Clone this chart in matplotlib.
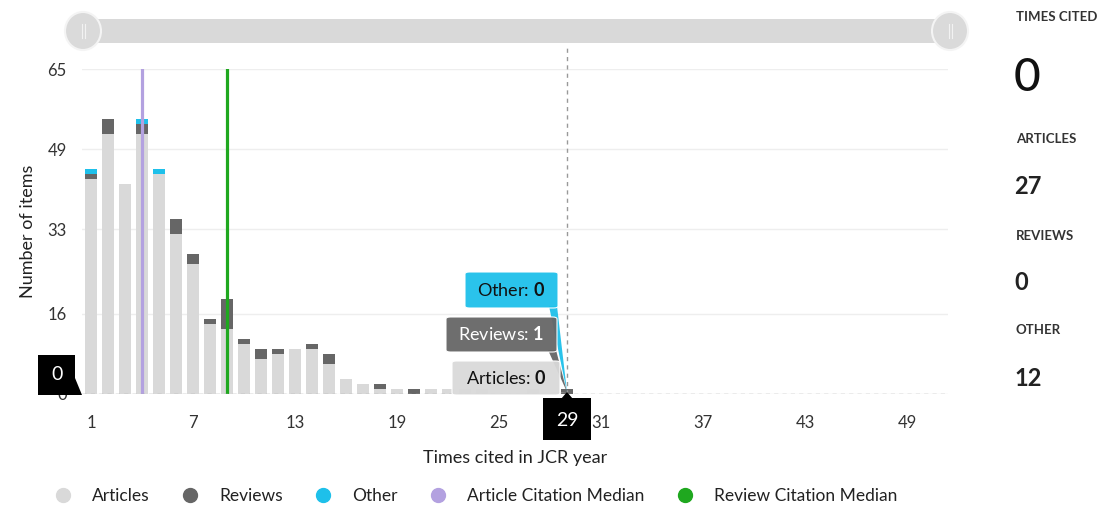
import numpy as np
import matplotlib.pyplot as plt
from matplotlib.lines import Line2D
from matplotlib.patches import FancyBboxPatch, Ellipse, Polygon

plt.rcParams['font.family'] = ['Lato', 'DejaVu Sans']
plt.rcParams['mathtext.fontset'] = 'custom'
plt.rcParams['mathtext.rm'] = 'Lato'
plt.rcParams['mathtext.bf'] = 'Lato:bold'

# --- data ---
times_cited = np.arange(1, 30)
articles = [43, 52, 42, 52, 44, 32, 26, 14, 13, 10, 7, 8, 9, 9, 6, 3, 2, 1, 1, 0,
            1, 1, 1, 1, 0, 0, 1, 0, 0]
reviews = [1, 3, 0, 2, 0, 3, 2, 1, 6, 1, 2, 1, 0, 1, 2, 0, 0, 1, 0, 1,
           0, 0, 0, 0, 0, 0, 0, 0, 1]
other = [1, 0, 0, 1, 1] + [0] * 24
article_median = 4
review_median = 9
x_ticks = [1, 7, 13, 19, 25, 31, 37, 43, 49]
y_ticks = [0, 16, 33, 49, 65]

hover_x = 29
hover_vals = {"Articles": 0, "Reviews": 1, "Other": 0}
panel = [("TIMES CITED", "0"), ("ARTICLES", "27"), ("REVIEWS", "0"), ("OTHER", "12")]

c_art = '#d9d9d9'
c_rev = '#666666'
c_oth = '#1ec0ea'
c_amed = '#b3a1e0'
c_rmed = '#1fa81f'

W, H = 1110, 505
fig = plt.figure(figsize=(W / 100, H / 100), dpi=100)
ax = fig.add_axes([82 / W, 1 - 394 / H, (948 - 82) / W, (394 - 69) / H])


def fx(px):
    return px / W


def fy(py):
    return 1 - py / H


art = np.array(articles)
rev = np.array(reviews)
oth = np.array(other)
ax.bar(times_cited, art, width=0.7, color=c_art, zorder=2)
ax.bar(times_cited, rev, width=0.7, bottom=art, color=c_rev, zorder=2)
ax.bar(times_cited, oth, width=0.7, bottom=art + rev, color=c_oth, zorder=2)

ax.axvline(article_median, color=c_amed, lw=2.3, zorder=3)
ax.axvline(review_median, color=c_rmed, lw=2.3, zorder=3)

ax.set_xlim(0.47, 51.4)
ax.set_ylim(0, 65)
ax.set_xticks(x_ticks)
ax.set_yticks(y_ticks)
ax.tick_params(length=0, labelsize=12, colors='#333333')
ax.tick_params(axis='x', pad=15)
ax.tick_params(axis='y', pad=11)
ax.grid(axis='y', color='#eeeeee', lw=1, zorder=0)
for s in ax.spines.values():
    s.set_visible(False)
ax.axhline(0, color='#aaaaaa', lw=1, ls=(0, (3, 3)), zorder=4)
ax.set_xlabel("Times cited in JCR year", fontsize=13, color='#222222', labelpad=14)
ax.set_ylabel("Number of items", fontsize=13, color='#222222', labelpad=8)

# hover crosshair
ax.plot([hover_x, hover_x], [0, 69.8], color='#999999', lw=1, ls=(0, (3, 3)),
        clip_on=False, zorder=4)

# tooltips (pixel boxes), tails point at the hovered bar
pt = (567, 392)
tips = [("Other", c_oth, '#111111', (465, 272, 558, 308)),
        ("Reviews", c_rev, 'white', (446, 317, 557, 352)),
        ("Articles", c_art, '#111111', (452, 361, 560, 395))]
for name, fc, tc, (x0, y0, x1, y1) in tips:
    fig.patches.append(Polygon([[fx(x1 - 9), fy(y1 - 2)], [fx(x1 - 1), fy(y1 - 2)],
                                [fx(pt[0]), fy(pt[1])]], closed=True,
                               transform=fig.transFigure, fc=fc, ec='none',
                               alpha=0.95, zorder=5))
    fig.patches.append(FancyBboxPatch((fx(x0), fy(y1)), fx(x1 - x0), (y1 - y0) / H,
                                      boxstyle='round,pad=0,rounding_size=0.004',
                                      transform=fig.transFigure, fc=fc,
                                      ec='white', lw=0.8, alpha=0.95, zorder=6))
    fig.text(fx((x0 + x1) / 2), fy((y0 + y1) / 2), f"{name}: $\\mathbf{{{hover_vals[name]}}}$",
             ha='center', va='center', fontsize=13, color=tc, zorder=7)

# black labels on axes
fig.patches.append(FancyBboxPatch((fx(543), fy(440)), fx(48), 42 / H,
                                  boxstyle='square,pad=0', transform=fig.transFigure,
                                  fc='black', ec='none'))
fig.patches.append(Polygon([[fx(561), fy(399)], [fx(573), fy(399)], [fx(567), fy(392)]],
                           closed=True, transform=fig.transFigure, fc='black', ec='none'))
fig.text(fx(567), fy(420), str(hover_x), ha='center', va='center', fontsize=14,
         color='white')
fig.patches.append(Polygon([[fx(38), fy(355)], [fx(75), fy(355)], [fx(75), fy(378)],
                            [fx(82), fy(395)], [fx(38), fy(395)]], closed=True,
                           transform=fig.transFigure, fc='black', ec='none'))
fig.text(fx(57), fy(375), "0", ha='center', va='center', fontsize=14, color='white')

# range slider
fig.patches.append(FancyBboxPatch((fx(70), fy(43)), fx(963 - 70), 24 / H,
                                  boxstyle='round,pad=0,rounding_size=0.02',
                                  transform=fig.transFigure, fc='#d9d9d9', ec='none'))
for hx in (83, 950):
    fig.patches.append(Ellipse((fx(hx), fy(31)), 36 / W, 38 / H,
                               transform=fig.transFigure, fc='#dadada',
                               ec='#f4f4f4', lw=1.5))
    for dx in (-1.5, 1.5):
        fig.add_artist(Line2D([fx(hx + dx)] * 2, [fy(24), fy(38)],
                              color='#f2f2f2', lw=0.8))

# right-hand panel
ys = [(17, 78), (139, 187), (236, 282), (330, 378)]
for (lab, val), (yl, yv) in zip(panel, ys):
    fig.text(fx(1016), fy(yl), lab, ha='left', va='center', fontsize=9.5,
             fontweight='bold', color='#333333')
    big = lab == "TIMES CITED"
    fig.text(fx(1014), fy(yv), val, ha='left', va='center',
             fontsize=33 if big else 17, fontweight='medium' if big else 'bold',
             color='#111111' if big else '#222222')

# legend
handles = [Line2D([], [], ls='none', marker='o', ms=10, mfc=c, mec=c)
           for c in (c_art, c_rev, c_oth, c_amed, c_rmed)]
labels = ["Articles", "Reviews", "Other", "Article Citation Median",
          "Review Citation Median"]
fig.legend(handles, labels, loc='center left', bbox_to_anchor=(fx(39), fy(496)),
           ncol=5, frameon=False, fontsize=12.5, handlelength=1.0, handletextpad=1.15,
           columnspacing=1.85, labelcolor='#222222')

fig.savefig("out.png", dpi=100)
